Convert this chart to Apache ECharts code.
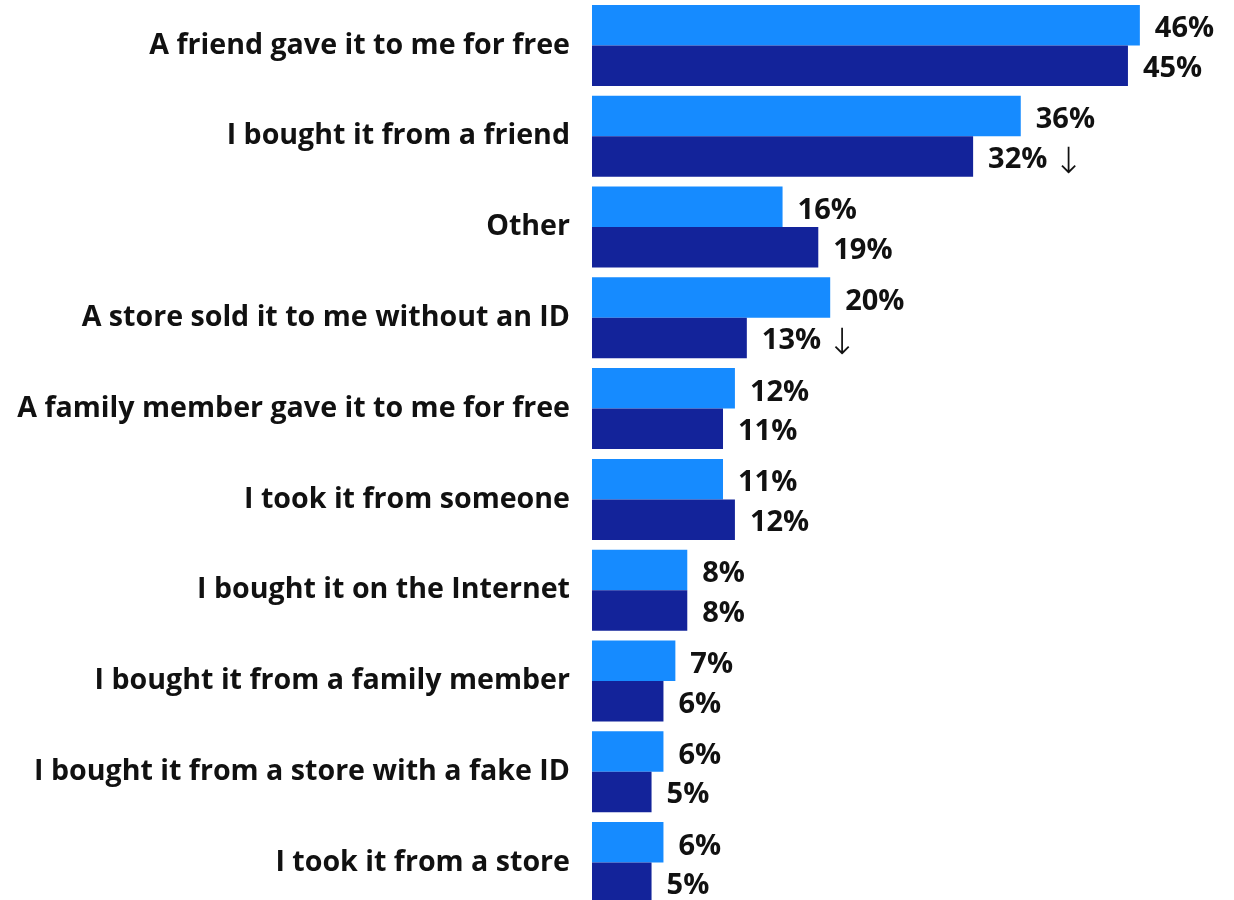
<!DOCTYPE html>
<html><head><meta charset="utf-8">
<script src="https://cdn.jsdelivr.net/npm/echarts@6/dist/echarts.min.js"></script>
<style>html,body{margin:0;padding:0;background:#fff;overflow:hidden;width:1234px;height:900px}#c{width:1234px;height:908px}</style>
</head><body><div id="c"></div>
<script>
const categories = [
  "A friend gave it to me for free",
  "I bought it from a friend",
  "Other",
  "A store sold it to me without an ID",
  "A family member gave it to me for free",
  "I took it from someone",
  "I bought it on the Internet",
  "I bought it from a family member",
  "I bought it from a store with a fake ID",
  "I took it from a store"
];
const seriesLight = [46, 36, 16, 20, 12, 11, 8, 7, 6, 6];
const seriesDark  = [45, 32, 19, 13, 11, 12, 8, 6, 5, 5];
const darkDown    = [false, true, false, true, false, false, false, false, false, false];

const FONT = 'Open Sans';
const chart = echarts.init(document.getElementById('c'));
chart.setOption({
  animation: false,
  grid: { left: 592, top: 0, right: 46.5, bottom: 0 },
  xAxis: { type: 'value', min: 0, max: 50, show: false },
  yAxis: {
    type: 'category', data: categories, inverse: true,
    axisLine: { show: false }, axisTick: { show: false },
    axisLabel: { margin: 22, color: '#111', fontFamily: FONT, fontWeight: 'bold', fontSize: 28.6, padding: [5, 0, 0, 0] }
  },
  series: [
    {
      type: 'bar', data: seriesLight, barGap: '0%', barCategoryGap: '10.8%',
      itemStyle: { color: '#168bff' },
      label: { show: true, position: 'right', distance: 15, offset: [0, 4], color: '#111', fontFamily: FONT, fontWeight: 'bold', fontSize: 29,
        formatter: p => p.value + '%' }
    },
    {
      type: 'bar', data: seriesDark, barGap: '0%', barCategoryGap: '10.8%',
      itemStyle: { color: '#13239a' },
      label: { show: true, position: 'right', distance: 15, offset: [0, 3], color: '#111', fontFamily: FONT, fontWeight: 'bold', fontSize: 29,
        formatter: p => p.value + '%' + (darkDown[p.dataIndex] ? '{a|↓}' : ''),
        rich: { a: { fontFamily: 'DejaVu Sans', fontWeight: 200, fontSize: 36, color: '#111', padding: [8, 0, 0, 6] } }
      }
    }
  ]
});
</script></body></html>
